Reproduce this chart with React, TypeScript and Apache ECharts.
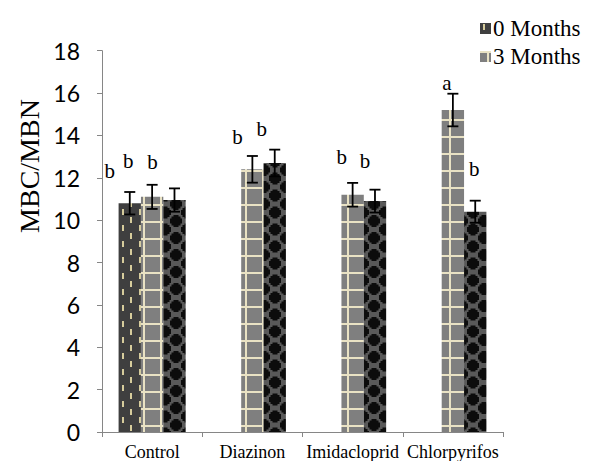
import React, { useEffect, useRef } from 'react';
import * as echarts from 'echarts';

// ---------- data ----------
const categories = ['Control', 'Diazinon', 'Imidacloprid', 'Chlorpyrifos'];
const legendNames = ['0 Months', '3 Months'];
const thirdSeriesName = 'Series 3';
const valuesA: (number | null)[] = [10.8, null, null, null];
const valuesB: number[] = [11.1, 12.4, 11.2, 15.2];
const valuesC: number[] = [10.95, 12.7, 10.9, 10.4];
const errorsA: (number | null)[] = [0.53, null, null, null];
const errorsB: number[] = [0.57, 0.63, 0.56, 0.77];
const errorsC: number[] = [0.55, 0.63, 0.54, 0.52];
const lettersA = ['b', '', '', ''];
const lettersB = ['b', 'b', 'b', 'a'];
const lettersC = ['b', 'b', 'b', 'b'];
const yMin = 0;
const yMax = 18;
const yInterval = 2;
const yTitle = 'MBC/MBN';

// ---------- label nudges (layout, px) ----------
const nudgeA = [[-20, -17], [0, 0], [0, 0], [0, 0]];
const nudgeB = [[-24, -20], [-15, -17], [-11, -22], [-6, -12]];
const nudgeC = [[-22, -23], [-13, -18], [-10, -25], [-1, -27]];

const BAR_FRAC = 0.223;
const SERIF = '"Liberation Serif", "Times New Roman", serif';

function makeCanvas(w: number, h: number, draw: (ctx: CanvasRenderingContext2D) => void) {
  const c = document.createElement('canvas');
  c.width = w;
  c.height = h;
  const ctx = c.getContext('2d') as CanvasRenderingContext2D;
  draw(ctx);
  return c;
}

function buildPatterns() {
  const a = makeCanvas(17, 16, (ctx) => {
    ctx.fillStyle = '#3f3f3f';
    ctx.fillRect(0, 0, 17, 16);
    ctx.fillStyle = '#d6cc9c';
    ctx.fillRect(3, 1, 2, 6);
    ctx.fillRect(11, 9, 2, 6);
  });
  const b = makeCanvas(17, 17, (ctx) => {
    ctx.fillStyle = '#7f7f7f';
    ctx.fillRect(0, 0, 17, 17);
    ctx.fillStyle = '#e9e2c4';
    ctx.fillRect(0, 0, 17, 2);
    ctx.fillRect(7, 0, 2, 17);
  });
  const c = makeCanvas(22, 17, (ctx) => {
    ctx.fillStyle = '#595959';
    ctx.fillRect(0, 0, 22, 17);
    ctx.fillStyle = '#0c0c0c';
    const blob = (cx: number, cy: number) => {
      ctx.fillRect(cx - 6, cy - 2.5, 12, 5);
      ctx.fillRect(cx - 2.5, cy - 6, 5, 12);
      ctx.fillRect(cx - 4.5, cy - 4.5, 9, 9);
    };
    [[0, 0], [22, 0], [0, 17], [22, 17], [11, 8.5]].forEach(([x, y]) => blob(x, y));
  });
  return {
    A: { image: a, repeat: 'repeat', imageWidth: 17, imageHeight: 16 },
    B: { image: b, repeat: 'repeat', imageWidth: 17, imageHeight: 17 },
    C: { image: c, repeat: 'repeat', imageWidth: 22, imageHeight: 17 },
  };
}

function barData(values: (number | null)[], letters: string[], nudges: number[][]) {
  return values.map((v, i) =>
    v == null
      ? '-'
      : {
          value: v,
          label: { show: letters[i] !== '', formatter: letters[i], offset: nudges[i] },
        }
  );
}

function errorSeries(values: (number | null)[], errors: (number | null)[], slot: number) {
  const data: number[][] = [];
  values.forEach((v, i) => {
    const e = errors[i];
    if (v != null && e != null) data.push([i, v - e, v + e]);
  });
  return {
    type: 'custom',
    z: 5,
    silent: true,
    data,
    renderItem: (params: any, api: any) => {
      const xi = api.value(0);
      const lo = api.coord([xi, api.value(1)]);
      const hi = api.coord([xi, api.value(2)]);
      const bandW = api.size([1, 0])[0];
      const x = lo[0] + slot * bandW * BAR_FRAC;
      const cap = 5.5;
      const style = { stroke: '#000', lineWidth: 1.8, fill: 'none' };
      return {
        type: 'group',
        children: [
          { type: 'line', shape: { x1: x, y1: lo[1], x2: x, y2: hi[1] }, style },
          { type: 'line', shape: { x1: x - cap, y1: lo[1], x2: x + cap, y2: lo[1] }, style },
          { type: 'line', shape: { x1: x - cap, y1: hi[1], x2: x + cap, y2: hi[1] }, style },
        ],
      };
    },
  };
}

export default function App() {
  const ref = useRef<HTMLDivElement>(null);

  useEffect(() => {
    if (!ref.current) return;
    const chart = echarts.init(ref.current, undefined, { renderer: 'svg' });
    const pat = buildPatterns();
    const labelBase = {
      position: 'top',
      fontFamily: SERIF,
      fontSize: 21,
      color: '#000',
    };
    const option: any = {
      animation: false,
      backgroundColor: '#fff',
      grid: { left: 102, right: 87, top: 50.7, bottom: 28.7, containLabel: false },
      legend: {
        data: legendNames,
        orient: 'vertical',
        left: 475,
        top: 12,
        itemWidth: 11,
        itemHeight: 11,
        itemGap: 5,
        icon: 'rect',
        textStyle: { fontFamily: SERIF, fontSize: 23, color: '#000', padding: [0, 0, 0, -3] },
      },
      xAxis: {
        type: 'category',
        data: categories,
        axisLine: { show: true, lineStyle: { color: '#868686', width: 1 } },
        axisTick: { show: true, length: 5, alignWithLabel: false, lineStyle: { color: '#868686' } },
        axisLabel: { interval: 0, fontFamily: SERIF, fontSize: 18, color: '#000', margin: 11 },
        splitLine: { show: false },
      },
      yAxis: {
        type: 'value',
        min: yMin,
        max: yMax,
        interval: yInterval,
        axisLine: { show: true, lineStyle: { color: '#868686', width: 1 } },
        axisTick: { show: true, length: 5, lineStyle: { color: '#868686' } },
        axisLabel: { fontFamily: 'Lato, "Open Sans", sans-serif', fontSize: 23, color: '#000', margin: 22 },
        splitLine: { show: false },
      },
      graphic: [
        {
          type: 'text',
          x: 29.5,
          y: 166,
          rotation: Math.PI / 2,
          style: {
            text: yTitle,
            font: 'normal 28px "Liberation Serif", "Times New Roman", serif',
            fill: '#000',
            align: 'center',
            verticalAlign: 'middle',
          },
        },
      ],
      series: [
        {
          name: legendNames[0],
          type: 'bar',
          barWidth: BAR_FRAC * 100 + '%',
          barGap: '0%',
          itemStyle: { color: pat.A },
          label: labelBase,
          data: barData(valuesA, lettersA, nudgeA),
        },
        {
          name: legendNames[1],
          type: 'bar',
          barWidth: BAR_FRAC * 100 + '%',
          barGap: '0%',
          itemStyle: { color: pat.B },
          label: labelBase,
          data: barData(valuesB, lettersB, nudgeB),
        },
        {
          name: thirdSeriesName,
          type: 'bar',
          barWidth: BAR_FRAC * 100 + '%',
          barGap: '0%',
          itemStyle: { color: pat.C },
          label: labelBase,
          data: barData(valuesC, lettersC, nudgeC),
        },
        errorSeries(valuesA, errorsA, -1),
        errorSeries(valuesB, errorsB, 0),
        errorSeries(valuesC, errorsC, 1),
      ],
    };
    chart.setOption(option);
    return () => chart.dispose();
  }, []);

  return (
    <div
      ref={ref}
      style={{ position: 'absolute', left: 0, top: 0, width: 590, height: 461 }}
    />
  );
}
